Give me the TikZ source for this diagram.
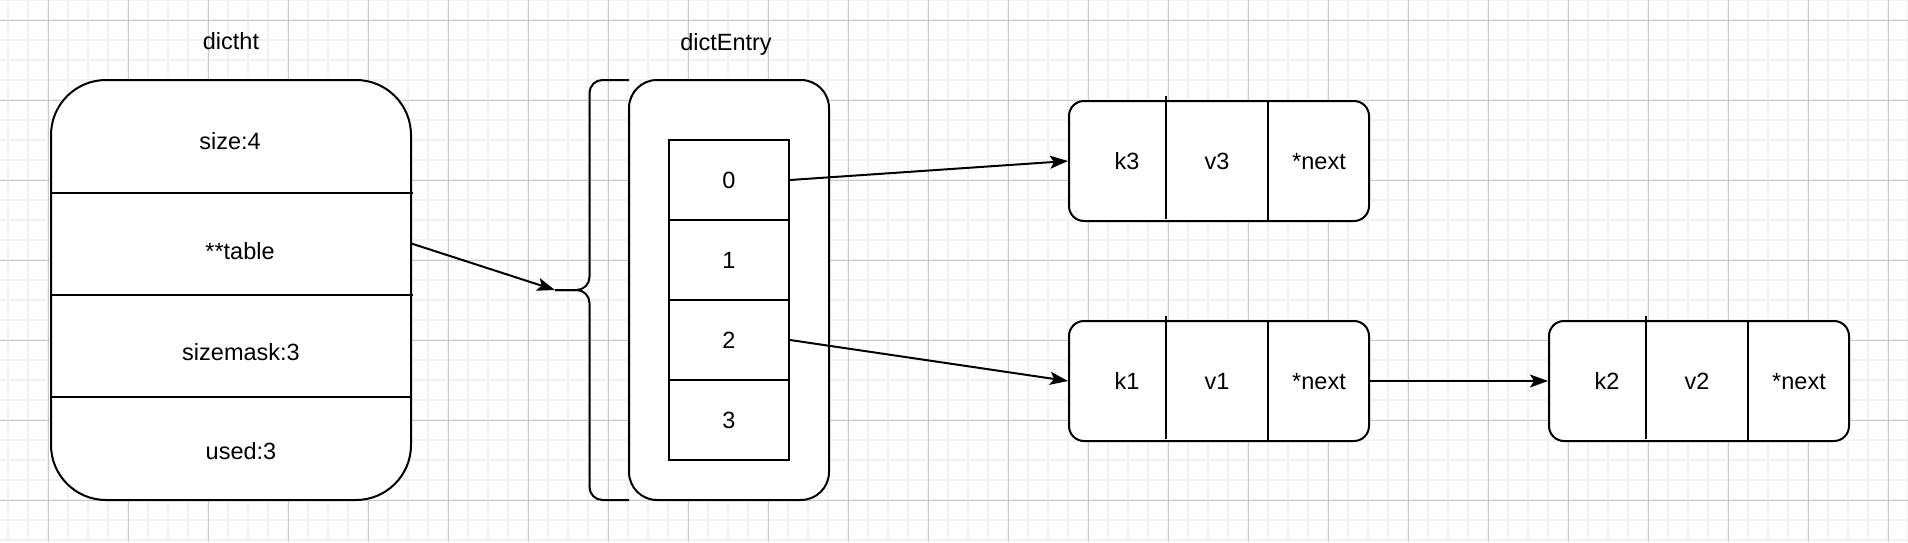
\documentclass[tikz,border=0pt]{standalone}
\usepackage{fontspec}
\setmainfont{Liberation Sans}
\usetikzlibrary{arrows.meta,calc}
\newcommand{\kvbox}[5]{%
  \node[box,rounded corners=7.5pt,minimum width=150pt,minimum height=60pt] (#1) at (#2,#3) {};
  \draw[line width=1pt] ($(#1.north west)+(98,-4)$) -- ($(#1.south west)+(98,-3)$);
  \draw[line width=1pt] ($(#1.north west)+(200,0)$) -- ($(#1.south west)+(200,0)$);
  \node[lbl] (#1k) at ($(#1.west)+(59,0)$) {#4};
  \node[lbl] (#1v) at ($(#1.west)+(149,0)$) {#5};
  \node[lbl] (#1n) at ($(#1.west)+(251,0)$) {*next};
}
\begin{document}
\begin{tikzpicture}[x=0.5pt,y=-0.5pt,
  lbl/.style={inner sep=0pt,text height=8.46pt,text depth=0pt,font=\fontsize{11.75pt}{14pt}\selectfont},
  box/.style={draw,line width=1pt,inner sep=0pt,fill=white},
  cell/.style={box,minimum width=60pt,minimum height=40pt,text height=8.46pt,text depth=0pt,font=\fontsize{11.75pt}{14pt}\selectfont},
  arr/.style={-{Stealth[length=9pt,width=6.5pt,inset=2pt]},line width=1pt},
  gminor/.style={black!5,line width=1pt},
  gmajor/.style={black!21,line width=0.5pt},
]
\useasboundingbox (0,0) rectangle (1908,542);
\fill[white] (0,0) rectangle (1908,542);
% grid
\foreach \x in {8,28,...,1908} \draw[gminor] (\x,0) -- (\x,542);
\foreach \y in {0,20,...,542} \draw[gminor] (0,\y) -- (1908,\y);
\foreach \x in {48,128,...,1908} \draw[gmajor] (\x,0) -- (\x,542);
\foreach \y in {20,100,...,542} \draw[gmajor] (0,\y) -- (1908,\y);

% dictht
\node[lbl] (dicthtlbl) at (231,41.5) {dictht};
\node[box,rounded corners=27.5pt,minimum width=180pt,minimum height=210pt] (dictht) at (231,290) {};
\node[inner sep=0pt,minimum width=180pt,minimum height=51pt] (rtable) at (231,243.5) {};
\draw[line width=1pt] (51,192.5) -- (413,192.5);
\draw[line width=1pt] (51,294.5) -- (413,294.5);
\draw[line width=1pt] (49.5,397) -- (411,397);
\node[lbl] (lsize) at (230,141.5) {size:4};
\node[lbl] (ltable) at (240,251.5) {**table};
\node[lbl] (lmask) at (241,352.5) {sizemask:3};
\node[lbl] (lused) at (241,451.5) {used:3};

% dictEntry
\node[lbl] (entrylbl) at (726,42) {dictEntry};
\node[box,rounded corners=14pt,minimum width=100pt,minimum height=210pt] (entry) at (729,290) {};
\node[cell] (c0) at (729,180) {0};
\node[cell] (c1) at (729,260) {1};
\node[cell] (c2) at (729,340) {2};
\node[cell] (c3) at (729,420) {3};

% brace
\coordinate (btip) at (555,290);
\draw[line width=1pt,rounded corners=6.5pt] (629,80) -- (589.5,80) -- (589.5,290) -- (btip);
\draw[line width=1pt,rounded corners=6.5pt] (629,500) -- (589.5,500) -- (589.5,290) -- (btip);

% entries
\kvbox{e3}{1219}{161}{k3}{v3}
\kvbox{e1}{1219}{381}{k1}{v1}
\kvbox{e2}{1699}{381}{k2}{v2}

% connectors
\draw[arr] (rtable.east) -- (btip);
\draw[arr] (c0.east) -- (e3.west);
\draw[arr] (c2.east) -- (e1.west);
\draw[arr] (e1.east) -- (e2.west);
\end{tikzpicture}
\end{document}
